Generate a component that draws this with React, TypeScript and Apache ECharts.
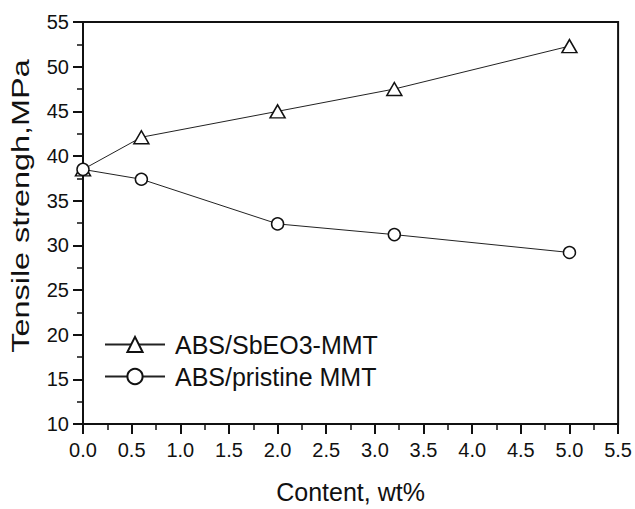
import React, { useEffect, useRef } from "react";
import * as echarts from "echarts";

const contents = [0, 0.6, 2.0, 3.2, 5.0];
const sbeo3Values = [38.5, 42.1, 45.0, 47.5, 52.3];
const pristineValues = [38.5, 37.4, 32.4, 31.2, 29.2];
const seriesNames = ["ABS/SbEO3-MMT", "ABS/pristine MMT"];
const xTitle = "Content, wt%";
const yTitle = "Tensile strengh,MPa";

const FONT = "Liberation Sans, Arial, sans-serif";

export default function App() {
  const ref = useRef<HTMLDivElement>(null);
  useEffect(() => {
    if (!ref.current) return;
    document.body.style.margin = "0";
    const chart = echarts.init(ref.current, null, { renderer: "svg" });
    const mk = (vals: number[]) => contents.map((c, i) => [c, vals[i]]);
    chart.setOption({
      animation: false,
      backgroundColor: "#fff",
      textStyle: { fontFamily: FONT, color: "#111" },
      grid: {
        left: 83,
        right: 16,
        top: 22,
        bottom: 76,
        show: true,
        borderColor: "#111",
        borderWidth: 2,
        containLabel: false,
      },
      legend: {
        orient: "vertical",
        left: 104,
        top: 332,
        padding: 0,
        itemWidth: 60,
        itemHeight: 19,
        itemGap: 7,
        textStyle: { fontSize: 25, fontFamily: FONT, color: "#111", padding: [0, 0, 0, 5] },
        data: seriesNames,
      },
      xAxis: {
        type: "value",
        min: 0,
        max: 5.5,
        interval: 0.5,
        name: xTitle,
        nameLocation: "middle",
        nameGap: 55,
        nameTextStyle: { fontSize: 25, fontFamily: FONT, color: "#111" },
        axisLine: { show: true, lineStyle: { color: "#111", width: 2 } },
        axisTick: { show: true, inside: false, length: 10, lineStyle: { color: "#111", width: 2 } },
        minorTick: { show: true, splitNumber: 2, length: 6, lineStyle: { color: "#111", width: 1.5 } },
        axisLabel: {
          fontSize: 20,
          fontFamily: FONT,
          color: "#111",
          margin: 16,
          showMaxLabel: true,
          formatter: (v: number) => v.toFixed(1),
        },
        splitLine: { show: false },
      },
      yAxis: {
        type: "value",
        min: 10,
        max: 55,
        interval: 5,
        axisLine: { show: true, lineStyle: { color: "#111", width: 2 } },
        axisTick: { show: true, inside: false, length: 10, lineStyle: { color: "#111", width: 2 } },
        minorTick: { show: true, splitNumber: 2, length: 6, lineStyle: { color: "#111", width: 1.5 } },
        axisLabel: { fontSize: 20, fontFamily: FONT, color: "#111", margin: 14 },
        splitLine: { show: false },
      },
      graphic: [
        {
          type: "text",
          x: 21,
          y: 206,
          rotation: Math.PI / 2,
          scaleX: 1.35,
          style: {
            text: yTitle,
            fontSize: 24,
            fontFamily: FONT,
            fill: "#111",
            align: "center",
            verticalAlign: "middle",
          },
        },
      ],
      series: [
        {
          name: seriesNames[0],
          type: "line",
          data: mk(sbeo3Values),
          symbol: "triangle",
          symbolSize: [15, 13],
          showAllSymbol: true,
          lineStyle: { color: "#222", width: 1 },
          itemStyle: { color: "#fff", borderColor: "#111", borderWidth: 1.5 },
          z: 3,
        },
        {
          name: seriesNames[1],
          type: "line",
          data: mk(pristineValues),
          symbol: "circle",
          symbolSize: 12,
          showAllSymbol: true,
          lineStyle: { color: "#222", width: 1 },
          itemStyle: { color: "#fff", borderColor: "#111", borderWidth: 1.5 },
          z: 3,
        },
      ],
    });
    return () => chart.dispose();
  }, []);
  return (
    <div
      ref={ref}
      style={{ width: 635, height: 509, position: "absolute", left: 0, top: 0 }}
    />
  );
}
